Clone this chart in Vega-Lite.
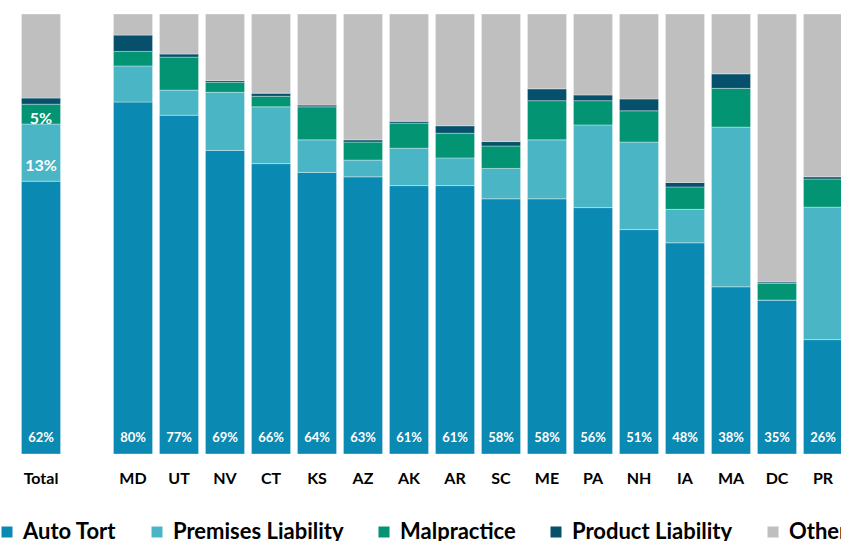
{
  "$schema": "https://vega.github.io/schema/vega-lite/v6.json",
  "width": 828,
  "height": 440,
  "autosize": "none",
  "padding": {"left": 18, "top": 14, "right": 0, "bottom": 87},
  "background": "white",
  "config": {"view": {"stroke": null}, "font": "Lato"},
  "data": {"values": [
    {"s":"Total","c":"Auto Tort","o":1,"v":62},{"s":"Total","c":"Premises Liability","o":2,"v":13},{"s":"Total","c":"Malpractice","o":3,"v":4.5},{"s":"Total","c":"Product Liability","o":4,"v":1.4},{"s":"Total","c":"Other","o":5,"v":19.1},
    {"s":"MD","c":"Auto Tort","o":1,"v":80},{"s":"MD","c":"Premises Liability","o":2,"v":8.2},{"s":"MD","c":"Malpractice","o":3,"v":3.3},{"s":"MD","c":"Product Liability","o":4,"v":3.7},{"s":"MD","c":"Other","o":5,"v":4.8},
    {"s":"UT","c":"Auto Tort","o":1,"v":77},{"s":"UT","c":"Premises Liability","o":2,"v":5.7},{"s":"UT","c":"Malpractice","o":3,"v":7.5},{"s":"UT","c":"Product Liability","o":4,"v":0.7},{"s":"UT","c":"Other","o":5,"v":9.1},
    {"s":"NV","c":"Auto Tort","o":1,"v":69},{"s":"NV","c":"Premises Liability","o":2,"v":13.2},{"s":"NV","c":"Malpractice","o":3,"v":2.3},{"s":"NV","c":"Product Liability","o":4,"v":0.4},{"s":"NV","c":"Other","o":5,"v":15.1},
    {"s":"CT","c":"Auto Tort","o":1,"v":66},{"s":"CT","c":"Premises Liability","o":2,"v":12.9},{"s":"CT","c":"Malpractice","o":3,"v":2.4},{"s":"CT","c":"Product Liability","o":4,"v":0.7},{"s":"CT","c":"Other","o":5,"v":18.0},
    {"s":"KS","c":"Auto Tort","o":1,"v":64},{"s":"KS","c":"Premises Liability","o":2,"v":7.4},{"s":"KS","c":"Malpractice","o":3,"v":7.5},{"s":"KS","c":"Product Liability","o":4,"v":0.4},{"s":"KS","c":"Other","o":5,"v":20.7},
    {"s":"AZ","c":"Auto Tort","o":1,"v":63},{"s":"AZ","c":"Premises Liability","o":2,"v":3.8},{"s":"AZ","c":"Malpractice","o":3,"v":4.1},{"s":"AZ","c":"Product Liability","o":4,"v":0.5},{"s":"AZ","c":"Other","o":5,"v":28.6},
    {"s":"AK","c":"Auto Tort","o":1,"v":61},{"s":"AK","c":"Premises Liability","o":2,"v":8.5},{"s":"AK","c":"Malpractice","o":3,"v":5.7},{"s":"AK","c":"Product Liability","o":4,"v":0.4},{"s":"AK","c":"Other","o":5,"v":24.4},
    {"s":"AR","c":"Auto Tort","o":1,"v":61},{"s":"AR","c":"Premises Liability","o":2,"v":6.3},{"s":"AR","c":"Malpractice","o":3,"v":5.6},{"s":"AR","c":"Product Liability","o":4,"v":1.7},{"s":"AR","c":"Other","o":5,"v":25.4},
    {"s":"SC","c":"Auto Tort","o":1,"v":58},{"s":"SC","c":"Premises Liability","o":2,"v":6.9},{"s":"SC","c":"Malpractice","o":3,"v":5.1},{"s":"SC","c":"Product Liability","o":4,"v":1.0},{"s":"SC","c":"Other","o":5,"v":29.0},
    {"s":"ME","c":"Auto Tort","o":1,"v":58},{"s":"ME","c":"Premises Liability","o":2,"v":13.4},{"s":"ME","c":"Malpractice","o":3,"v":8.9},{"s":"ME","c":"Product Liability","o":4,"v":2.7},{"s":"ME","c":"Other","o":5,"v":17.0},
    {"s":"PA","c":"Auto Tort","o":1,"v":56},{"s":"PA","c":"Premises Liability","o":2,"v":18.8},{"s":"PA","c":"Malpractice","o":3,"v":5.5},{"s":"PA","c":"Product Liability","o":4,"v":1.3},{"s":"PA","c":"Other","o":5,"v":18.4},
    {"s":"NH","c":"Auto Tort","o":1,"v":51},{"s":"NH","c":"Premises Liability","o":2,"v":19.9},{"s":"NH","c":"Malpractice","o":3,"v":7.1},{"s":"NH","c":"Product Liability","o":4,"v":2.7},{"s":"NH","c":"Other","o":5,"v":19.3},
    {"s":"IA","c":"Auto Tort","o":1,"v":48},{"s":"IA","c":"Premises Liability","o":2,"v":7.6},{"s":"IA","c":"Malpractice","o":3,"v":5.1},{"s":"IA","c":"Product Liability","o":4,"v":1.0},{"s":"IA","c":"Other","o":5,"v":38.3},
    {"s":"MA","c":"Auto Tort","o":1,"v":38},{"s":"MA","c":"Premises Liability","o":2,"v":36.3},{"s":"MA","c":"Malpractice","o":3,"v":8.8},{"s":"MA","c":"Product Liability","o":4,"v":3.3},{"s":"MA","c":"Other","o":5,"v":13.6},
    {"s":"DC","c":"Auto Tort","o":1,"v":35},{"s":"DC","c":"Premises Liability","o":2,"v":0},{"s":"DC","c":"Malpractice","o":3,"v":3.8},{"s":"DC","c":"Product Liability","o":4,"v":0.3},{"s":"DC","c":"Other","o":5,"v":60.9},
    {"s":"PR","c":"Auto Tort","o":1,"v":26},{"s":"PR","c":"Premises Liability","o":2,"v":30.1},{"s":"PR","c":"Malpractice","o":3,"v":6.4},{"s":"PR","c":"Product Liability","o":4,"v":0.5},{"s":"PR","c":"Other","o":5,"v":37.0}
  ]},
  "encoding": {
    "x": {
      "field": "s", "type": "nominal",
      "scale": {"domain": ["Total"," ","MD","UT","NV","CT","KS","AZ","AK","AR","SC","ME","PA","NH","IA","MA","DC","PR"], "paddingInner": 0.15, "paddingOuter": 0.075},
      "axis": {"title": null, "labelAngle": 0, "domain": false, "ticks": false, "labelPadding": 16, "labelFontSize": 16, "labelFontWeight": "bold", "labelColor": "#000000", "labelFont": "Lato"}
    }
  },
  "layer": [
    {
      "mark": {"type": "bar", "stroke": "white", "strokeOpacity": 0.35, "strokeWidth": 1},
      "encoding": {
        "y": {"field": "v", "type": "quantitative", "stack": "normalize", "scale": {"domain": [0, 1], "nice": false}, "axis": null},
        "color": {
          "field": "c", "type": "nominal",
          "scale": {"domain": ["Auto Tort","Premises Liability","Malpractice","Product Liability","Other"], "range": ["#0A89B2","#4AB5C4","#039474","#06506B","#BFBFBF"]},
          "legend": {"title": null, "orient": "none", "direction": "horizontal", "columns": 5, "legendX": -22, "legendY": 507, "symbolType": "square", "symbolSize": 121, "symbolStrokeWidth": 0, "labelFontSize": 22, "labelFont": "Lato", "labelFontWeight": "bold", "labelColor": "#000000", "labelOffset": 5, "columnPadding": 29, "labelLimit": 400}
        },
        "order": {"field": "o", "type": "quantitative"}
      }
    },
    {
      "transform": [{"filter": "datum.o == 1"}, {"calculate": "datum.v + '%'", "as": "lab"}],
      "mark": {"type": "text", "color": "white", "fontWeight": "bold", "fontSize": 13, "font": "Lato", "baseline": "middle"},
      "encoding": {
        "y": {"datum": 0.0375, "type": "quantitative"},
        "text": {"field": "lab"}
      }
    },
    {
      "transform": [{"filter": "datum.s == 'Total' && datum.o == 2"}, {"calculate": "round(datum.v) + '%'", "as": "lab"}],
      "mark": {"type": "text", "color": "white", "fontWeight": "bold", "fontSize": 16, "font": "Lato", "baseline": "middle"},
      "encoding": {
        "y": {"datum": 0.6545, "type": "quantitative"},
        "text": {"field": "lab"}
      }
    },
    {
      "transform": [{"filter": "datum.s == 'Total' && datum.o == 3"}, {"calculate": "round(datum.v + 0.5) + '%'", "as": "lab"}],
      "mark": {"type": "text", "color": "white", "fontWeight": "bold", "fontSize": 16, "font": "Lato", "baseline": "middle"},
      "encoding": {
        "y": {"datum": 0.761, "type": "quantitative"},
        "text": {"field": "lab"}
      }
    }
  ]
}
